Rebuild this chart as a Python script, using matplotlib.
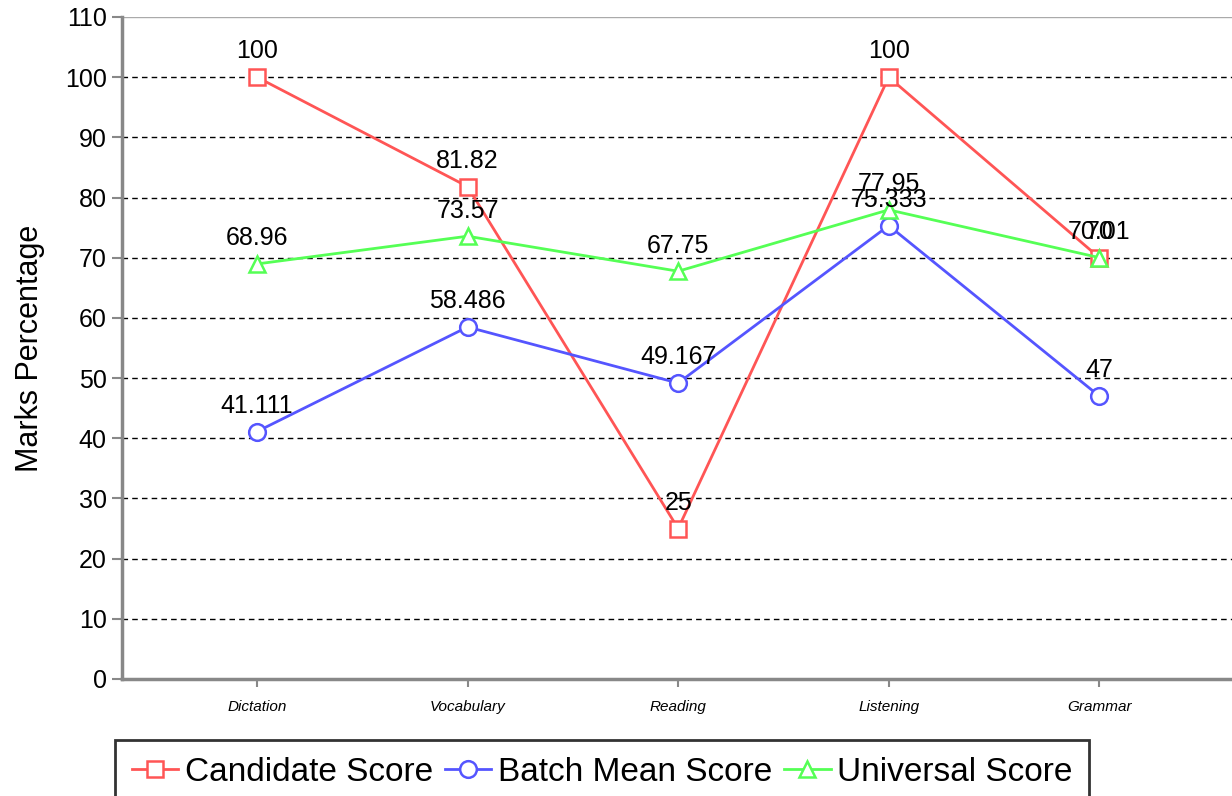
import matplotlib
matplotlib.use('Agg')
import matplotlib.pyplot as plt

plt.rcParams['font.family'] = ['Liberation Sans', 'DejaVu Sans']

categories = ['Dictation', 'Vocabulary', 'Reading', 'Listening', 'Grammar']
candidate = [100, 81.82, 25, 100, 70]
batch_mean = [41.111, 58.486, 49.167, 75.333, 47]
universal = [68.96, 73.57, 67.75, 77.95, 70.01]
labels_candidate = ['100', '81.82', '25', '100', '70']
labels_batch = ['41.111', '58.486', '49.167', '75.333', '47']
labels_universal = ['68.96', '73.57', '67.75', '77.95', '70.01']

fig = plt.figure(figsize=(12.32, 7.96), dpi=100)
ax = fig.add_axes([0.099, 0.147, 0.901, 0.8317])

x = list(range(len(categories)))

series = [
    (candidate, labels_candidate, '#ff5555', 's', 'Candidate Score'),
    (batch_mean, labels_batch, '#5555ff', 'o', 'Batch Mean Score'),
    (universal, labels_universal, '#55ff55', '^', 'Universal Score'),
]

for vals, labs, col, mk, name in series:
    ax.plot(x, vals, color=col, marker=mk, markersize=12, markerfacecolor='white',
            markeredgecolor=col, markeredgewidth=1.8, linewidth=2, label=name, zorder=3)
    for xi, v, t in zip(x, vals, labs):
        ax.annotate(t, (xi, v), xytext=(0, 18.5), textcoords='offset points',
                    ha='center', va='center', fontsize=18, zorder=4)

ax.set_xlim(-0.641, 4.63)
ax.set_ylim(0, 110)
ax.set_yticks(range(0, 111, 10))
ax.set_xticks(x)
ax.set_xticklabels(categories, fontsize=11, style='italic')
ax.tick_params(axis='y', labelsize=18, length=7, color='#888888', width=1.5, pad=4)
ax.tick_params(axis='x', length=6, color='#888888', width=1.5, pad=9)

for yv in range(10, 101, 10):
    ax.axhline(yv, color='black', linestyle=(0, (4, 3)), linewidth=1, zorder=1)
ax.axhline(110, color='#aaaaaa', linewidth=1, zorder=1)

ax.spines['right'].set_visible(False)
ax.spines['top'].set_visible(False)
ax.spines['left'].set_color('#888888')
ax.spines['left'].set_linewidth(2.5)
ax.spines['bottom'].set_color('#888888')
ax.spines['bottom'].set_linewidth(2.5)

ax.set_ylabel('Marks Percentage', fontsize=22, labelpad=14)

leg = ax.legend(loc='upper left', bbox_to_anchor=(115 / 1232, 1 - 740 / 796),
                bbox_transform=fig.transFigure, ncol=3, fontsize=24, frameon=True,
                fancybox=False, edgecolor='black', handlelength=1.4, handletextpad=0.2,
                columnspacing=0.35, borderpad=0.5, borderaxespad=0)
leg.get_frame().set_linewidth(2)

fig.savefig('out.png', dpi=100)
